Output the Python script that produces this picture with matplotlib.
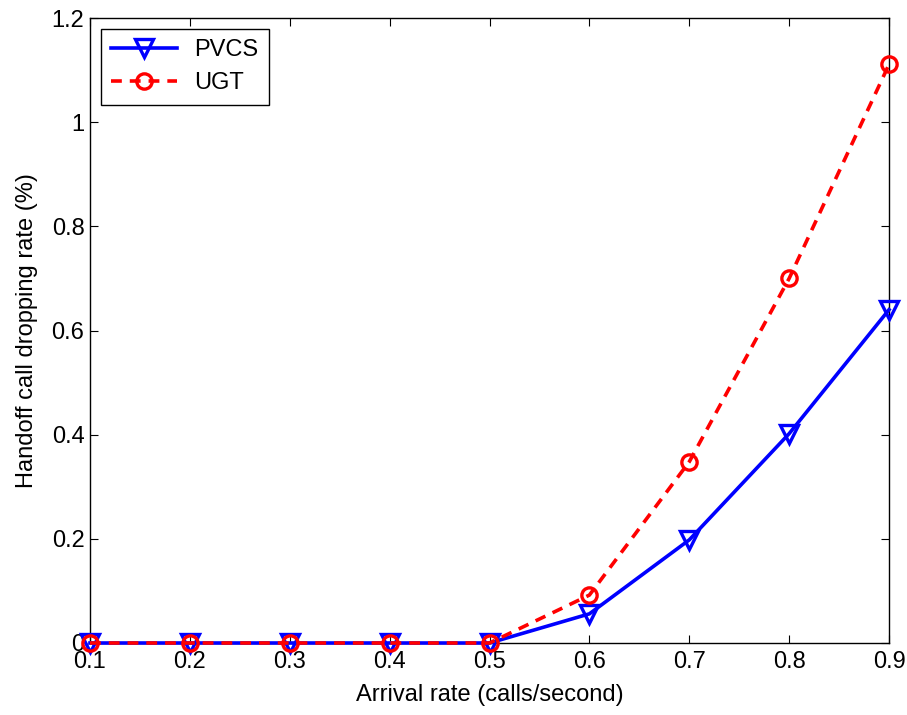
import matplotlib
matplotlib.use("Agg")
import matplotlib.pyplot as plt
from matplotlib.ticker import FuncFormatter

plt.rcParams['font.family'] = ['Liberation Sans', 'DejaVu Sans']

arrival = [0.1, 0.2, 0.3, 0.4, 0.5, 0.6, 0.7, 0.8, 0.9]
pvcs = [0, 0, 0, 0, 0, 0.056, 0.198, 0.402, 0.64]
ugt = [0, 0, 0, 0, 0, 0.092, 0.348, 0.70, 1.111]

fig = plt.figure(figsize=(9.07, 7.15), dpi=100)
ax = fig.add_axes([0.0992, 0.1007, 0.8810, 0.8741])

ax.plot(arrival, pvcs, 'b-', marker='v', markersize=13, markerfacecolor='none',
        markeredgewidth=2.4, linewidth=2.6, label='PVCS', clip_on=False, zorder=3)
ax.plot(arrival, ugt, 'r--', marker='o', markersize=11, markerfacecolor='none',
        markeredgewidth=2.4, linewidth=2.6, dashes=(3, 2.2), label='UGT',
        clip_on=False, zorder=4)

ax.set_xlim(0.1, 0.9)
ax.set_ylim(0, 1.2)
ax.set_xticks(arrival)
ax.set_yticks([0, 0.2, 0.4, 0.6, 0.8, 1.0, 1.2])
ax.yaxis.set_major_formatter(FuncFormatter(lambda v, p: ('%g' % round(v, 2))))
ax.tick_params(direction='in', top=True, right=True, labelsize=17, length=6)
ax.tick_params(axis='x', pad=6)
ax.tick_params(axis='y', pad=4)
for s in ax.spines.values():
    s.set_linewidth(1)

ax.set_xlabel('Arrival rate (calls/second)', fontsize=17, labelpad=8)
ax.set_ylabel('Handoff call dropping rate (%)', fontsize=17, labelpad=10)

leg = ax.legend(loc='upper left', fontsize=17, fancybox=False, edgecolor='black',
                framealpha=1, handlelength=2.8, borderaxespad=0.45,
                borderpad=0.45, labelspacing=0.45, handletextpad=0.7)
leg.get_frame().set_linewidth(1)

fig.savefig('out.png', dpi=100)
